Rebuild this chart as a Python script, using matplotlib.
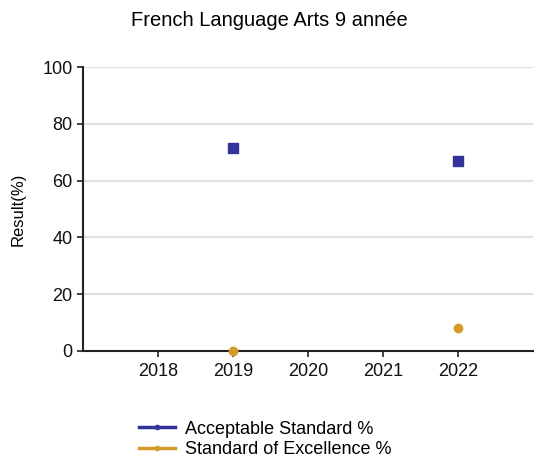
import matplotlib.pyplot as plt
from matplotlib.lines import Line2D

plt.rcParams['font.family'] = ['Liberation Sans', 'DejaVu Sans']

years = [2019, 2022]
acceptable = [71.5, 66.9]
excellence = [0.0, 8.1]
xticks = [2018, 2019, 2020, 2021, 2022]
yticks = [0, 20, 40, 60, 80, 100]

blue = '#333399'
gold = '#d49a2a'

fig = plt.figure(figsize=(5.34, 4.59), dpi=100)
ax = fig.add_axes([0.1554, 0.2353, 0.843, 0.6187])

ax.plot(years, acceptable, linestyle='none', marker='s', ms=6.5, color=blue, clip_on=False, zorder=3)
ax.plot(years, excellence, linestyle='none', marker='o', ms=6, color=gold, clip_on=False, zorder=3)

ax.set_xlim(2017, 2023)
ax.set_ylim(0, 100)
ax.set_xticks(xticks)
ax.set_yticks(yticks)
ax.tick_params(axis='both', labelsize=13, length=4, width=1.2, color='#222222', labelcolor='#111111')
ax.tick_params(axis='x', pad=5)
ax.grid(axis='y', color='#e0e0e0', lw=1.5)
ax.set_axisbelow(True)
for s in ['top', 'right']:
	ax.spines[s].set_visible(False)
for s in ['left', 'bottom']:
	ax.spines[s].set_color('#222222')
	ax.spines[s].set_linewidth(1.5)

ax.set_ylabel('Result(%)', fontsize=12, labelpad=12)
fig.text(0.505, 0.955, 'French Language Arts 9 année', ha='center', va='center', fontsize=14.5)

handles = [
	Line2D([], [], color=blue, lw=2.5, marker='o', ms=3),
	Line2D([], [], color=gold, lw=2.5, marker='o', ms=3),
]
fig.legend(handles, ['Acceptable Standard %', 'Standard of Excellence %'], loc='upper left',
	bbox_to_anchor=(0.243, 0.103), frameon=False, fontsize=13, handlelength=2.0,
	handletextpad=0.55, labelspacing=0.2, borderpad=0)

fig.savefig('out.png', dpi=100)
